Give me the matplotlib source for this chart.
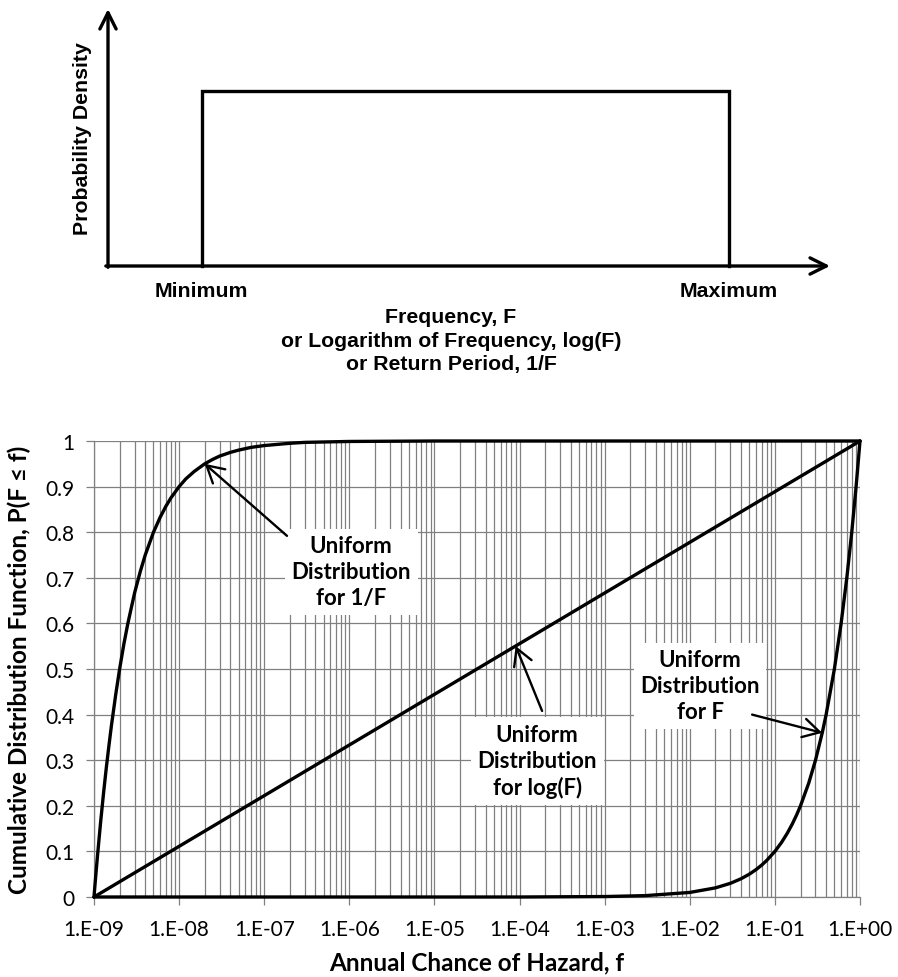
import numpy as np
import matplotlib
matplotlib.use("Agg")
import matplotlib.pyplot as plt
from matplotlib.ticker import FixedLocator, FuncFormatter

# Schematic density (top panel): support end points along the frequency axis
support_labels = ["Minimum", "Maximum"]
support = [0.13, 0.86]
density = 0.68

# CDF (bottom panel)
f_log = [1e-9, 1.0]
p_log = [0.0, 1.0]

f_freq = [1e-9, 1e-4, 1e-3, 3e-3, 1e-2, 2e-2, 3e-2, 4e-2, 5e-2, 6e-2, 7e-2, 8e-2, 0.1,
          0.12, 0.14, 0.16, 0.18, 0.2, 0.25, 0.3, 0.36, 0.4, 0.5, 0.6, 0.7, 0.8, 0.9, 1.0]
p_freq = [0.0, 0.0, 0.001, 0.003, 0.01, 0.02, 0.03, 0.04, 0.05, 0.06, 0.07, 0.08, 0.1,
          0.12, 0.14, 0.16, 0.18, 0.2, 0.25, 0.3, 0.36, 0.4, 0.5, 0.6, 0.7, 0.8, 0.9, 1.0]

f_ret = [1e-9, 1.02e-9, 1.05e-9, 1.1e-9, 1.15e-9, 1.2e-9, 1.3e-9, 1.4e-9, 1.5e-9, 1.6e-9,
         1.8e-9, 2e-9, 2.25e-9, 2.5e-9, 3e-9, 3.5e-9, 4e-9, 5e-9, 6e-9, 7e-9, 8e-9, 1e-8,
         1.2e-8, 1.5e-8, 2e-8, 2.5e-8, 3e-8, 4e-8, 5e-8, 7e-8, 1e-7, 2e-7, 3e-7, 1e-6, 1e-5, 1.0]
p_ret = [0.0, 0.02, 0.048, 0.091, 0.13, 0.167, 0.231, 0.286, 0.333, 0.375,
         0.444, 0.5, 0.556, 0.6, 0.667, 0.714, 0.75, 0.8, 0.833, 0.857, 0.875, 0.9,
         0.917, 0.933, 0.95, 0.96, 0.967, 0.975, 0.98, 0.986, 0.99, 0.995, 0.997, 0.999, 1.0, 1.0]

decades = list(range(-9, 1))

fig = plt.figure(figsize=(8.98, 9.78), dpi=100)

# ---- top: uniform density sketch ----
arial = ["Liberation Sans", "DejaVu Sans"]
ax_top = fig.add_axes([108 / 898, 1 - 267 / 978, 722 / 898, 257 / 978])
ax_top.set_xlim(0, 1)
ax_top.set_ylim(0, 1)
ax_top.axis("off")

axis_arrow = dict(arrowstyle="->,head_length=0.9,head_width=0.45", lw=2.4,
                  color="black", shrinkA=0, shrinkB=0, mutation_scale=13)
ax_top.annotate("", xy=(0, 1.0), xytext=(0, -0.005), xycoords="axes fraction",
                arrowprops=axis_arrow, annotation_clip=False)
ax_top.annotate("", xy=(1.0, 0), xytext=(-0.003, 0), xycoords="axes fraction",
                arrowprops=axis_arrow, annotation_clip=False)

ax_top.plot([support[0], support[0], support[1], support[1]],
            [0, density, density, 0], color="black", lw=2.4, clip_on=False,
            solid_joinstyle="miter")

for xpos, lab in zip(support, support_labels):
    ax_top.text(xpos, -0.097, lab, ha="center", va="center", fontsize=15.3,
                fontweight="bold", family=arial)

ax_top.text(-0.036, 0.5, "Probability Density", rotation=90, ha="center",
            va="center", fontsize=15.3, fontweight="bold", family=arial)
ax_top.text(0.475, -0.288,
            "Frequency, F\nor Logarithm of Frequency, log(F)\nor Return Period, 1/F",
            ha="center", va="center", fontsize=15.3, fontweight="bold",
            family=arial, linespacing=1.32)

# ---- bottom: cumulative distribution functions ----
calib = ["Lato", "DejaVu Sans"]
ax = fig.add_axes([94 / 898, 80 / 978, 766 / 898, 456 / 978])
ax.set_xscale("log")
ax.set_xlim(1e-9, 1.0)
ax.set_ylim(0, 1)

grid_c = "#808080"
ax.xaxis.set_major_locator(FixedLocator([10.0 ** d for d in decades]))
ax.xaxis.set_minor_locator(FixedLocator(
    [k * 10.0 ** d for d in decades[:-1] for k in range(2, 10)]))
ax.xaxis.set_major_formatter(FuncFormatter(lambda v, _: f"1.E{int(round(np.log10(v))):+03d}"))
ax.set_yticks(np.arange(0, 1.01, 0.1))
ax.yaxis.set_major_formatter(FuncFormatter(lambda v, _: f"{v:g}"))

ax.grid(True, which="both", axis="x", color=grid_c, lw=0.9)
ax.grid(True, which="major", axis="y", color=grid_c, lw=0.9)
ax.set_axisbelow(True)
ax.tick_params(which="minor", length=0)
ax.tick_params(axis="x", which="major", direction="out", length=6, color=grid_c,
               width=0.9, labelsize=15, pad=10)
ax.tick_params(axis="y", which="major", direction="out", length=6, color=grid_c,
               width=0.9, labelsize=15, pad=8)
for lbl in ax.get_xticklabels() + ax.get_yticklabels():
    lbl.set_family(calib)
for side in ("top", "right"):
    ax.spines[side].set_visible(False)
for side in ("left", "bottom"):
    ax.spines[side].set_color(grid_c)
    ax.spines[side].set_linewidth(0.9)

curve = dict(color="black", lw=2.4, clip_on=False, zorder=3,
             solid_capstyle="round", solid_joinstyle="round")
ax.plot(f_log, p_log, **curve)
ax.plot(f_freq, p_freq, **curve)
ax.plot(f_ret, p_ret, **curve)

ax.set_xlabel("Annual Chance of Hazard, f", fontsize=17.5, fontweight="bold",
              family=calib, labelpad=8)
ax.set_ylabel("Cumulative Distribution Function, P(F \u2264 f)", fontsize=17.5,
              fontweight="bold", family=calib, labelpad=10)

# labels with white boxes and pointer arrows
box = dict(boxstyle="square,pad=0.3", fc="white", ec="none")
label_kw = dict(ha="center", va="center", fontsize=16, fontweight="bold",
                family=calib, linespacing=1.3, bbox=box, zorder=4)
pointer = dict(arrowstyle="->,head_length=0.8,head_width=0.45", lw=1.7,
               color="black", shrinkA=0, shrinkB=0, mutation_scale=15)

ax.text(1.05e-6, 0.713, "Uniform\nDistribution\nfor 1/F", **label_kw)
ax.text(1.61e-4, 0.298, "Uniform\nDistribution\nfor log(F)", **label_kw)
ax.text(1.32e-2, 0.463, "Uniform\nDistribution\nfor F", **label_kw)

# arrow targets taken from the curves
tgt_ret = (f_ret[24], p_ret[24])
f_mid = 9e-5
tgt_log = (f_mid, np.interp(np.log10(f_mid), np.log10(f_log), p_log))
tgt_freq = (f_freq[20], p_freq[20])

for tail, tgt in [((1.85e-7, 0.792), tgt_ret),
                  ((1.84e-4, 0.408), tgt_log),
                  ((0.054, 0.40), tgt_freq)]:
    ax.annotate("", xy=tgt, xytext=tail, arrowprops=pointer, zorder=5)

fig.savefig("out.png", dpi=100, facecolor="white")
